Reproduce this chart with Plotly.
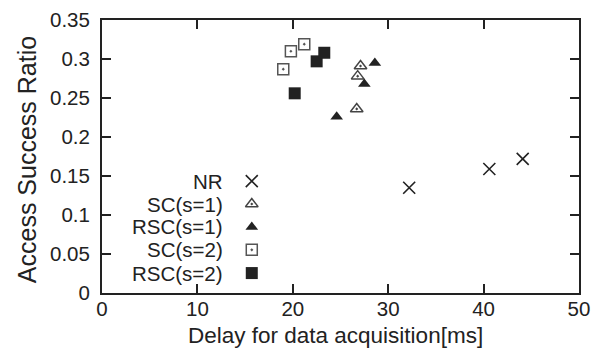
import plotly.graph_objects as go

# ---- data ----
nr_x = [32.2, 40.6, 44.1]
nr_y = [0.135, 0.159, 0.172]
sc1_x = [26.7, 26.8, 27.1]
sc1_y = [0.236, 0.278, 0.291]
rsc1_x = [24.6, 27.5, 28.6]
rsc1_y = [0.226, 0.268, 0.295]
sc2_x = [19.0, 19.8, 21.2]
sc2_y = [0.287, 0.310, 0.319]
rsc2_x = [20.2, 22.5, 23.3]
rsc2_y = [0.256, 0.297, 0.308]

series_names = ["NR", "SC(s=1)", "RSC(s=1)", "SC(s=2)", "RSC(s=2)"]
x_ticks = [0, 10, 20, 30, 40, 50]
y_ticks = [0, 0.05, 0.1, 0.15, 0.2, 0.25, 0.3, 0.35]
x_title = "Delay for data acquisition[ms]"
y_title = "Access Success Ratio"

FONT = "Liberation Sans, Arial, sans-serif"
INK = "#222222"

styles = [
    dict(symbol="x-thin-open", size=12, color=INK, line=dict(width=1.6, color=INK)),
    dict(symbol="triangle-up-open-dot", size=11, color="#444444", line=dict(width=1.5, color="#444444")),
    dict(symbol="triangle-up", size=11, color=INK, line=dict(width=0)),
    dict(symbol="square-open-dot", size=11, color="#555555", line=dict(width=1.5, color="#555555")),
    dict(symbol="square", size=12, color=INK, line=dict(width=0)),
]
data = [(nr_x, nr_y), (sc1_x, sc1_y), (rsc1_x, rsc1_y), (sc2_x, sc2_y), (rsc2_x, rsc2_y)]

fig = go.Figure()
for name, (xs, ys), st in zip(series_names, data, styles):
    fig.add_trace(go.Scatter(x=xs, y=ys, mode="markers", name=name,
                             marker=st, showlegend=False, hoverinfo="skip"))

# custom legend: text right-aligned, key symbol to its right
leg_text_x = 0.258
leg_key_x = 0.314
leg_rows = [0.410, 0.326, 0.242, 0.158, 0.073]
for name, st, ry in zip(series_names, styles, leg_rows):
    fig.add_trace(go.Scatter(x=[leg_key_x], y=[ry], mode="markers", marker=st,
                             xaxis="x2", yaxis="y2", showlegend=False, hoverinfo="skip"))
    fig.add_annotation(x=leg_text_x, y=ry, xref="paper", yref="paper", text=name,
                       showarrow=False, xanchor="right", yanchor="middle",
                       font=dict(family=FONT, size=20.5, color=INK))

# axis titles
fig.add_annotation(x=0.489, y=-0.1575, xref="paper", yref="paper", text=x_title,
                   showarrow=False, xanchor="center", yanchor="middle",
                   font=dict(family=FONT, size=22.5, color=INK))
fig.add_annotation(x=-0.157, y=0.487, xref="paper", yref="paper", text=y_title,
                   showarrow=False, xanchor="center", yanchor="middle", textangle=-90,
                   font=dict(family=FONT, size=25, color=INK))

axis_common = dict(showgrid=False, zeroline=False, showline=True, linecolor=INK,
                   linewidth=2, mirror="ticks", ticks="inside", ticklen=9,
                   tickwidth=1.5, tickcolor=INK, automargin=False,
                   tickfont=dict(family=FONT, size=20.5, color=INK))

fig.update_layout(
    width=600, height=354,
    margin=dict(l=102, r=21, t=20, b=61),
    paper_bgcolor="white", plot_bgcolor="white",
    xaxis=dict(range=[0, 50], tickvals=x_ticks, ticklabelstandoff=-4, **axis_common),
    yaxis=dict(range=[0, 0.35], tickvals=y_ticks, ticklabelstandoff=6, **axis_common),
    xaxis2=dict(overlaying="x", range=[0, 1], visible=False),
    yaxis2=dict(overlaying="y", range=[0, 1], visible=False),
)

fig.write_html("out.html", config={"displayModeBar": False},
               post_script="document.body.style.margin='0';document.body.style.overflow='hidden';")
